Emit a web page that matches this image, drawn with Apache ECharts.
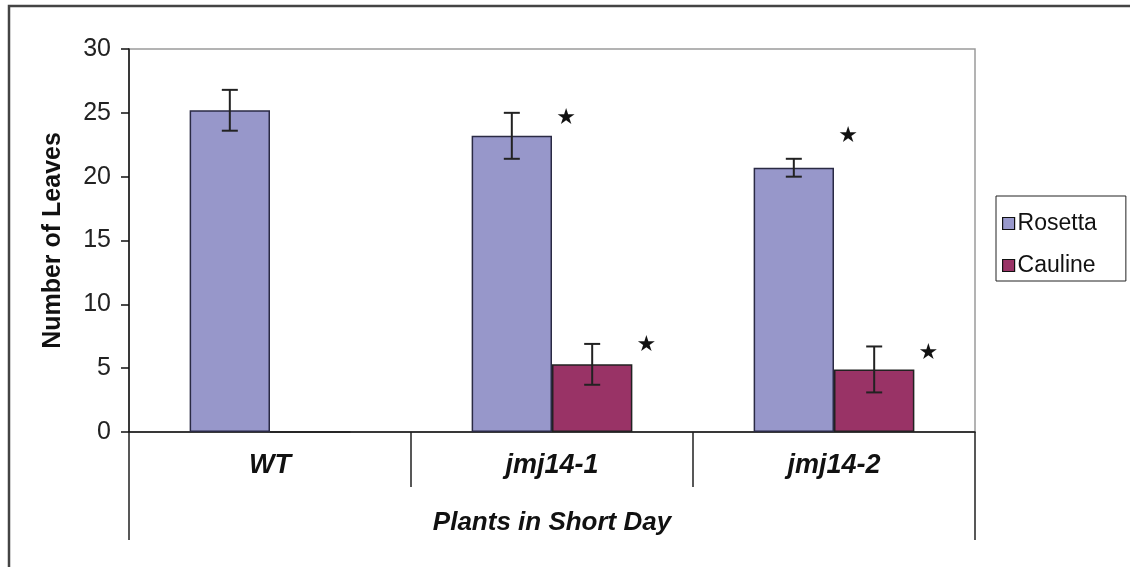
<!DOCTYPE html>
<html><head><meta charset="utf-8">
<script src="https://cdn.jsdelivr.net/npm/echarts@6/dist/echarts.min.js"></script>
<style>html,body{margin:0;padding:0;background:#fff}#c{width:1130px;height:567px}</style>
</head><body><div id="c"></div>
<script>
const categories = ['WT', 'jmj14-1', 'jmj14-2'];
const groupLabel = ['Plants in Short Day'];
const rosetta = [25.2, 23.2, 20.7];
const rosettaErr = [1.6, 1.8, 0.7];
const cauline = [0, 5.3, 4.9];
const caulineErr = [null, 1.6, 1.8];
// star annotations: [category index, series (0 Rosetta, 1 Cauline), y value]
const stars = [[1, 0, 24.6], [2, 0, 23.2], [1, 1, 6.8], [2, 1, 6.2]];
const yTicks = { min: 0, max: 30, interval: 5 };

const GAP = 0.43;
function barW(api) { return api.size([1, 0])[0] * (1 - GAP) / 2; }

const errData = [];
rosetta.forEach((v, i) => { if (rosettaErr[i] != null) errData.push([i, v, rosettaErr[i], 0]); });
cauline.forEach((v, i) => { if (caulineErr[i] != null) errData.push([i, v, caulineErr[i], 1]); });

const chart = echarts.init(document.getElementById('c'));
const sans = '"Liberation Sans", Arial, sans-serif';
chart.setOption({
  animation: false,
  graphic: [{
    type: 'rect', shape: { x: 9, y: 6, width: 1140, height: 580 },
    style: { fill: null, stroke: '#444', lineWidth: 2.5 }, silent: true, z: 0
  }],
  grid: { left: 129, top: 49, width: 846, height: 383, show: true, borderColor: '#9a9a9a', borderWidth: 1.5, backgroundColor: 'transparent' },
  legend: {
    orient: 'vertical', left: 996, top: 196,
    padding: [16, 29, 4, 6], itemGap: 19, itemWidth: 12, itemHeight: 12,
    borderColor: '#222', borderWidth: 1,
    icon: 'rect',
    textStyle: { fontSize: 23, color: '#111', fontFamily: sans, padding: [0, 0, 0, -2] },
    data: [
      { name: 'Rosetta', itemStyle: { color: '#9999cc', borderColor: '#111', borderWidth: 1.2 } },
      { name: 'Cauline', itemStyle: { color: '#993366', borderColor: '#111', borderWidth: 1.2 } }
    ]
  },
  xAxis: [{
    type: 'category', data: categories, position: 'bottom',
    axisLine: { lineStyle: { color: '#111', width: 1.5 } },
    axisTick: { show: true, length: 55, interval: 0, lineStyle: { color: '#222', width: 1.5 } },
    axisLabel: { margin: 20, fontSize: 27, fontWeight: 'bold', fontStyle: 'italic', color: '#111', fontFamily: sans }
  }, {
    type: 'category', data: groupLabel, position: 'bottom',
    axisLine: { show: false },
    axisTick: { show: true, length: 108, lineStyle: { color: '#222', width: 1.5 } },
    axisLabel: { margin: 78, fontSize: 26, fontWeight: 'bold', fontStyle: 'italic', color: '#111', fontFamily: sans }
  }],
  yAxis: {
    type: 'value', min: yTicks.min, max: yTicks.max, interval: yTicks.interval,
    name: 'Number of Leaves', nameLocation: 'middle', nameGap: 63, nameRotate: 90,
    nameTextStyle: { fontSize: 25, fontWeight: 'bold', color: '#111', fontFamily: sans },
    axisLine: { show: true, lineStyle: { color: '#111', width: 1.5 } },
    axisTick: { show: true, length: 8, lineStyle: { color: '#111', width: 1.5 } },
    axisLabel: { margin: 18, fontSize: 25, color: '#222', fontFamily: sans },
    splitLine: { show: false }
  },
  series: [{
    name: 'Rosetta', type: 'bar', data: rosetta, barGap: '0%', barCategoryGap: (GAP * 100) + '%',
    itemStyle: { color: '#9797ca', borderColor: '#2a2a44', borderWidth: 1.5 }
  }, {
    name: 'Cauline', type: 'bar', data: cauline,
    itemStyle: { color: '#993366', borderColor: '#222', borderWidth: 1.5 }
  }, {
    type: 'custom', data: errData, z: 5, silent: true,
    renderItem: function (params, api) {
      const ci = api.value(0), v = api.value(1), e = api.value(2), s = api.value(3);
      const w = barW(api);
      const c = api.coord([ci, v]);
      const x = c[0] + (s === 0 ? -w / 2 : w / 2);
      const top = api.coord([ci, v + e])[1];
      const bot = api.coord([ci, v - e])[1];
      const cap = 8;
      const st = { stroke: '#222', lineWidth: 2 };
      return { type: 'group', children: [
        { type: 'line', shape: { x1: x, y1: top, x2: x, y2: bot }, style: st },
        { type: 'line', shape: { x1: x - cap, y1: top, x2: x + cap, y2: top }, style: st },
        { type: 'line', shape: { x1: x - cap, y1: bot, x2: x + cap, y2: bot }, style: st }
      ] };
    }
  }, {
    type: 'custom', data: stars, z: 6, silent: true,
    renderItem: function (params, api) {
      const ci = api.value(0), s = api.value(1), y = api.value(2);
      const w = barW(api);
      const c = api.coord([ci, y]);
      const x = c[0] + (s === 0 ? 0 : w) + 14;
      return { type: 'text', style: { text: '★', x: x, y: c[1], fill: '#111', fontSize: 22, align: 'center', verticalAlign: 'middle', fontFamily: 'DejaVu Sans' } };
    }
  }]
});
</script></body></html>
